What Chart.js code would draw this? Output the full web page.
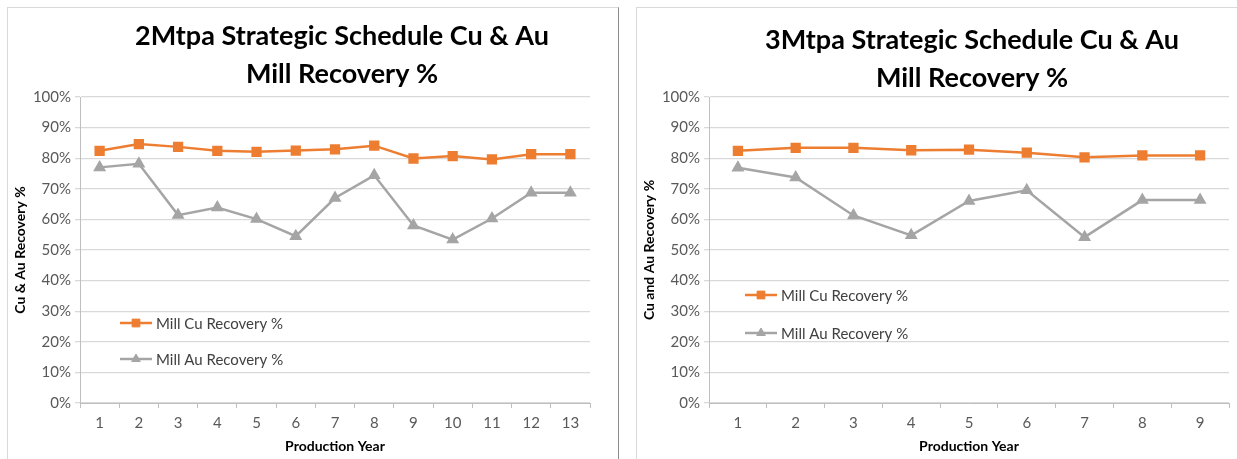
<!DOCTYPE html>
<html>
<head>
<meta charset="utf-8">
<title>Strategic Schedule Cu &amp; Au Mill Recovery</title>
<script src="https://cdn.jsdelivr.net/npm/chart.js@4.4.1/dist/chart.umd.min.js"></script>
<style>
    html, body { margin: 0; padding: 0; background: #fff; width: 1237px; height: 459px; overflow: hidden; position: relative; }
    .box { position: absolute; top: 7px; height: 470px; border: 1px solid #d9d9d9; box-sizing: border-box; background: #fff; }
    #box-2mt { left: 7px; width: 612px; border-right-color: #8c8c8c; }
    #box-3mt { left: 636px; width: 640px; }
    canvas { position: absolute; }
</style>
</head>
<body>
<div class="box" id="box-2mt"></div>
<div class="box" id="box-3mt"></div>
<canvas id="chart-2mt" style="left:8px;top:8px" width="609" height="451"></canvas>
<canvas id="chart-3mt" style="left:637px;top:8px" width="600" height="451"></canvas>
<script>
// 2Mtpa schedule
const years2 = ['1', '2', '3', '4', '5', '6', '7', '8', '9', '10', '11', '12', '13'];
const cu2 = [82.4, 84.6, 83.7, 82.4, 82.1, 82.5, 82.9, 84.1, 79.9, 80.7, 79.6, 81.3, 81.3];
const au2 = [77.0, 78.2, 61.4, 63.9, 60.1, 54.5, 67.0, 74.4, 58.0, 53.4, 60.3, 68.7, 68.7];

// 3Mtpa schedule
const years3 = ['1', '2', '3', '4', '5', '6', '7', '8', '9'];
const cu3 = [82.4, 83.4, 83.4, 82.6, 82.8, 81.8, 80.3, 80.9, 80.9];
const au3 = [76.9, 73.7, 61.3, 54.8, 66.0, 69.5, 54.2, 66.3, 66.3];

const yTicks = [0, 10, 20, 30, 40, 50, 60, 70, 80, 90, 100];

const FONT = 'Lato, "Open Sans", sans-serif';
const ORANGE = '#ed7d31';
const GREY = '#a5a5a5';

// title + in-plot legend, drawn by hand (Excel style)
const excelDecor = {
    id: 'excelDecor',
    afterDatasetsDraw(chart, args, opts) {
        const ctx = chart.ctx;
        const area = chart.chartArea;
        ctx.save();
        ctx.fillStyle = '#000';
        ctx.textAlign = 'center';
        ctx.textBaseline = 'middle';
        ctx.font = 'bold 27px ' + FONT;
        opts.title.forEach((line, i) => {
            ctx.fillText(line, opts.titleX, opts.titleY + i * 38);
        });

        ctx.font = '15px ' + FONT;
        ctx.textAlign = 'left';
        chart.data.datasets.forEach((ds, i) => {
            const x = area.left + opts.legendX;
            const y = opts.legendY + i * opts.legendGap;
            ctx.strokeStyle = ds.borderColor;
            ctx.lineWidth = 2.5;
            ctx.beginPath();
            ctx.moveTo(x, y);
            ctx.lineTo(x + 32, y);
            ctx.stroke();
            ctx.fillStyle = ds.pointBackgroundColor;
            ctx.strokeStyle = ds.pointBackgroundColor;
            ctx.lineWidth = 1;
            Chart.helpers.drawPoint(ctx, { pointStyle: ds.pointStyle, radius: ds.pointRadius, rotation: 0, borderWidth: 1 }, x + 16, y);
            ctx.fillStyle = '#404040';
            ctx.fillText(ds.label, x + 36, y + 1);
        });
        ctx.restore();
    },
};

function makeChart(id, labels, cu, au, yTitle, decor, padRight) {
    const xAxisH = 56;
    const yAxisW = 72;
    return new Chart(document.getElementById(id).getContext('2d'), {
        type: 'line',
        data: {
            labels,
            datasets: [
                {
                    label: 'Mill Cu Recovery %',
                    data: cu,
                    borderColor: ORANGE,
                    backgroundColor: ORANGE,
                    pointBackgroundColor: ORANGE,
                    pointBorderColor: ORANGE,
                    pointStyle: 'rect',
                    pointRadius: 5.5,
                    borderWidth: 2.5,
                    tension: 0,
                },
                {
                    label: 'Mill Au Recovery %',
                    data: au,
                    borderColor: GREY,
                    backgroundColor: GREY,
                    pointBackgroundColor: GREY,
                    pointBorderColor: GREY,
                    pointStyle: 'triangle',
                    pointRadius: 5,
                    borderWidth: 2.5,
                    tension: 0,
                },
            ],
        },
        options: {
            responsive: false,
            animation: false,
            layout: { padding: { top: 89, right: padRight, left: 0, bottom: 0 } },
            plugins: {
                legend: { display: false },
                title: { display: false },
                tooltip: { enabled: false },
                excelDecor: decor,
            },
            scales: {
                x: {
                    offset: true,
                    grid: { offset: true, drawOnChartArea: false, drawTicks: true, tickLength: 5, color: '#bfbfbf' },
                    border: { color: '#bfbfbf' },
                    ticks: { color: '#595959', font: { family: FONT, size: 15 }, padding: 6, maxRotation: 0 },
                    title: { display: true, text: 'Production Year', color: '#000', font: { family: FONT, size: 14, weight: 'bold' }, padding: { top: 1 } },
                    afterFit: (s) => { s.height = xAxisH; },
                },
                y: {
                    min: 0,
                    max: 100,
                    afterBuildTicks: (s) => { s.ticks = yTicks.map((v) => ({ value: v })); },
                    grid: { color: '#d9d9d9', drawTicks: true, tickLength: 5, lineWidth: 1.3 },
                    border: { color: '#bfbfbf' },
                    ticks: { color: '#595959', font: { family: FONT, size: 15 }, padding: 4, callback: (v) => v + '%' },
                    title: { display: true, text: yTitle, color: '#000', font: { family: FONT, size: 14, weight: 'bold' }, padding: { bottom: 0 } },
                    afterFit: (s) => { s.width = yAxisW; },
                },
            },
        },
        plugins: [excelDecor],
    });
}

makeChart('chart-2mt', years2, cu2, au2, 'Cu & Au Recovery %',
    { title: ['2Mtpa Strategic Schedule Cu & Au', 'Mill Recovery %'], titleX: 334, titleY: 28, legendX: 40, legendY: 315, legendGap: 36 }, 27);
makeChart('chart-3mt', years3, cu3, au3, 'Cu and Au Recovery %',
    { title: ['3Mtpa Strategic Schedule Cu & Au', 'Mill Recovery %'], titleX: 335, titleY: 32, legendX: 36, legendY: 287, legendGap: 38 }, 3);
</script>
</body>
</html>
